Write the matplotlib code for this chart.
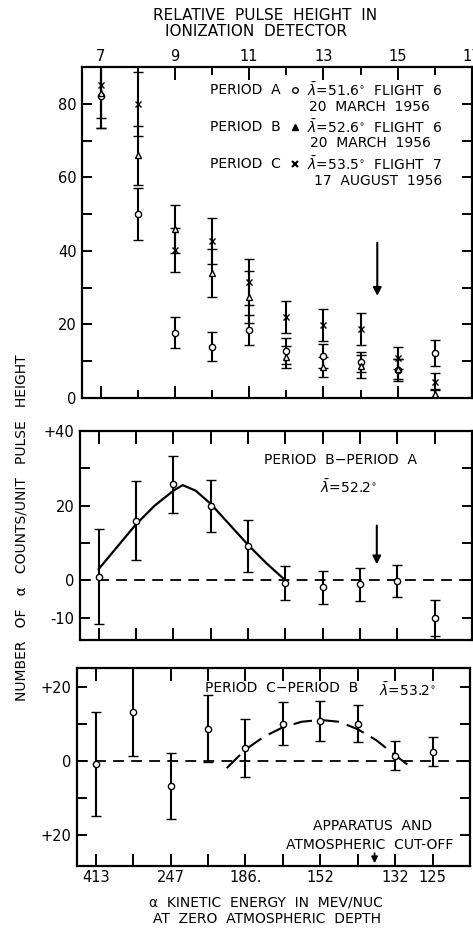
import matplotlib
matplotlib.use('Agg')
import matplotlib.pyplot as plt
from matplotlib.ticker import FixedLocator, NullFormatter

# ---------------- data ----------------
pulse_pos = [7, 8, 9, 10, 11, 12, 13, 14, 15, 16]

# top panel: number of alpha counts / unit pulse height
a_val = [82, 50, 17.7, 14, 18.5, 12.8, 11.4, 9.8, 7.6, 12.3]
a_err = [8.5, 7, 4.2, 4, 4.1, 3.5, 3.3, 2.6, 3, 3.5]
b_val = [83, 66, 46, 34, 27.5, 11.2, 8.4, 8.6, 8, 1]
b_err = [9.5, 8, 6.5, 6.5, 7, 3, 2.7, 3.2, 2.7, 1.5]
c_val = [85, 80, 40.3, 42.7, 31.6, 22, 19.9, 18.8, 11, 4.4]
c_err = [9, 8.7, 6, 6.2, 6.3, 4.4, 4.3, 4.3, 3, 2.3]

# middle panel: period B - period A
diff_ba = [1, 16, 25.7, 20, 9.2, -0.8, -1.9, -1.1, -0.3, -10]
diff_ba_err = [12.8, 10.5, 7.7, 7, 7, 4.5, 4.4, 4.5, 4.3, 4.8]
curve_ba_x = [7, 7.5, 8, 8.5, 9, 9.25, 9.6, 10, 10.5, 11, 11.5, 12]
curve_ba_y = [3, 9, 15, 20, 24, 25.5, 24, 20.5, 15, 9.5, 4.5, 0]

# bottom panel: period C - period B
diff_cb = [-0.8, 13.2, -6.8, 8.6, 3.5, 10, 10.8, 10, 1.4, 2.4]
diff_cb_err = [14, 12, 9, 9, 7.8, 5.8, 5.4, 4.9, 4, 3.9]
curve_cb_x = [10.5, 11, 11.5, 12, 12.5, 13, 13.5, 14, 14.5, 15, 15.45]
curve_cb_y = [-2, 3, 6.5, 9, 10.5, 11, 10.5, 8.5, 5.5, 1.5, -2]

top_ticks = [7, 9, 11, 13, 15, 17]
top_ticklabels = ['7', '9', '11', '13', '15', '17']
energy_pos = [7, 9, 11, 13, 15, 16]
energy_labels = ['413', '247', '186.', '152', '132', '125']

top_yticks = [0, 20, 40, 60, 80]
top_yticklabels = ['0', '20', '40', '60', '80']
mid_yticks = [-10, 0, 20, 40]
mid_yticklabels = ['-10', '0', '20', '+40']
bot_yticks = [-20, 0, 20]
bot_yticklabels = ['+20', '0', '+20']

cutoff_pulse = 14.45

# ---------------- figure ----------------
W, H = 473, 930
fig = plt.figure(figsize=(W / 100, H / 100), dpi=100)
plt.rcParams['font.family'] = ['DejaVu Sans']


def box(x0, y0, x1, y1):
    return [x0 / W, 1 - y1 / H, (x1 - x0) / W, (y1 - y0) / H]


def ftext(x, y, s, size=10, ha='center', **kw):
    fig.text(x / W, 1 - y / H, s, fontsize=size, ha=ha, va='center', **kw)


ax1 = fig.add_axes(box(82, 67, 472, 398))
ax2 = fig.add_axes(box(80, 431, 472, 640))
ax3 = fig.add_axes(box(77, 668, 470, 866))

for ax in (ax1, ax2, ax3):
    ax.set_xlim(6.5, 17)
    for s in ax.spines.values():
        s.set_linewidth(1.6)
    ax.tick_params(which='both', direction='in', width=1.4, labelsize=10.5,
                   top=True, right=True, pad=4)
    ax.tick_params(which='major', length=9)
    ax.tick_params(which='minor', length=6)

eb = dict(ecolor='black', elinewidth=1.5, capsize=3.5, capthick=1.5,
          mec='black', mfc='white', linestyle='none', mew=1.0, zorder=3)

# top panel
ax1.errorbar(pulse_pos, a_val, yerr=a_err, fmt='o', ms=4.5, **eb)
ax1.errorbar(pulse_pos, b_val, yerr=b_err, fmt='^', ms=4.5, **eb)
ax1.errorbar(pulse_pos, c_val, yerr=c_err, fmt='x', ms=4, **eb)
ax1.set_ylim(0, 90)
ax1.xaxis.set_major_locator(FixedLocator(top_ticks))
ax1.xaxis.set_minor_locator(FixedLocator([8, 10, 12, 14, 16]))
ax1.set_xticklabels(top_ticklabels)
ax1.xaxis.set_minor_formatter(NullFormatter())
ax1.tick_params(axis='x', labeltop=True, labelbottom=False, pad=2)
ax1.yaxis.set_major_locator(FixedLocator(top_yticks))
ax1.set_yticklabels(top_yticklabels)
ax1.yaxis.set_minor_locator(FixedLocator([10, 30, 50, 70]))
ax1.tick_params(axis='y', which='both', length=7)
ax1.annotate('', xy=(cutoff_pulse, 27), xytext=(cutoff_pulse, 43),
             arrowprops=dict(arrowstyle='-|>', color='black', lw=1.5,
                             mutation_scale=12))

# middle panel
ax2.axhline(0, color='black', lw=1.3, ls=(0, (6, 4)), zorder=1)
ax2.plot(curve_ba_x, curve_ba_y, color='black', lw=1.6, zorder=2)
ax2.errorbar(pulse_pos, diff_ba, yerr=diff_ba_err, fmt='o', ms=4.5, **eb)
ax2.set_ylim(-16, 40)
ax2.xaxis.set_major_locator(FixedLocator(pulse_pos))
ax2.xaxis.set_major_formatter(NullFormatter())
ax2.yaxis.set_major_locator(FixedLocator(mid_yticks))
ax2.set_yticklabels(mid_yticklabels)
ax2.yaxis.set_minor_locator(FixedLocator([10, 30]))
ax2.tick_params(axis='y', which='both', length=7)
ax2.annotate('', xy=(cutoff_pulse, 3.5), xytext=(cutoff_pulse, 15.4),
             arrowprops=dict(arrowstyle='-|>', color='black', lw=1.5,
                             mutation_scale=12))

# bottom panel
ax3.axhline(0, color='black', lw=1.3, ls=(0, (6, 4)), zorder=1)
ax3.plot(curve_cb_x, curve_cb_y, color='black', lw=1.5, ls=(0, (9, 4)), zorder=2)
ax3.errorbar(pulse_pos, diff_cb, yerr=diff_cb_err, fmt='o', ms=4.5, **eb)
ax3.set_ylim(-28.4, 25)
ax3.xaxis.set_major_locator(FixedLocator(energy_pos))
ax3.set_xticklabels(energy_labels)
ax3.xaxis.set_minor_locator(FixedLocator([8, 10, 12, 14]))
ax3.xaxis.set_minor_formatter(NullFormatter())
ax3.tick_params(axis='x', which='both', length=9, pad=3)
ax3.yaxis.set_major_locator(FixedLocator(bot_yticks))
ax3.set_yticklabels(bot_yticklabels)
ax3.yaxis.set_minor_locator(FixedLocator([-10, 10]))
ax3.tick_params(axis='y', which='both', length=7)
ax3.annotate('', xy=(cutoff_pulse, -28.4), xytext=(cutoff_pulse, -24.2),
             arrowprops=dict(arrowstyle='-|>', color='black', lw=1.3,
                             mutation_scale=9))

# ---------------- text ----------------
lam = r'$\bar{\lambda}$'
ftext(265, 15, 'RELATIVE  PULSE  HEIGHT  IN', size=11)
ftext(256, 32, 'IONIZATION  DETECTOR', size=11)

ftext(210, 90, 'PERIOD  A', size=10, ha='left')
ftext(307, 90, lam + '=51.6$^{\\circ}$  FLIGHT  6', size=10, ha='left')
ftext(309, 107, '20  MARCH  1956', size=10, ha='left')
ftext(210, 127, 'PERIOD  B', size=10, ha='left')
ftext(307, 127, lam + '=52.6$^{\\circ}$  FLIGHT  6', size=10, ha='left')
ftext(310, 143, '20  MARCH  1956', size=10, ha='left')
ftext(210, 164, 'PERIOD  C', size=10, ha='left')
ftext(307, 164, lam + '=53.5$^{\\circ}$  FLIGHT  7', size=10, ha='left')
ftext(314, 181, '17  AUGUST  1956', size=10, ha='left')
ax1.plot([295 / W], [1 - 90 / H], marker='o', ms=4, mfc='white', mec='black',
         transform=fig.transFigure, clip_on=False)
ax1.plot([295 / W], [1 - 127 / H], marker='^', ms=5, mfc='black', mec='black',
         transform=fig.transFigure, clip_on=False)
ax1.plot([295 / W], [1 - 164 / H], marker='x', ms=5, mec='black', mew=1.5,
         transform=fig.transFigure, clip_on=False)

ftext(341, 460, 'PERIOD  B\u2212PERIOD  A', size=10)
ftext(349, 487, lam + '=52.2$^{\\circ}$', size=10)

ftext(282, 688, 'PERIOD  C\u2212PERIOD  B', size=10)
ftext(408, 690, lam + '=53.2$^{\\circ}$', size=10)
ftext(373, 826, 'APPARATUS  AND', size=10)
ftext(370, 845, 'ATMOSPHERIC  CUT-OFF', size=10)

ftext(266, 902, '\u03b1  KINETIC  ENERGY  IN  MEV/NUC', size=10)
ftext(267, 919, 'AT  ZERO  ATMOSPHERIC  DEPTH', size=10)

fig.text(22 / W, 1 - 528 / H, 'NUMBER   OF   \u03b1   COUNTS/UNIT   PULSE   HEIGHT',
         rotation=90, fontsize=10, ha='center', va='center')

fig.savefig('out.png', dpi=100)
